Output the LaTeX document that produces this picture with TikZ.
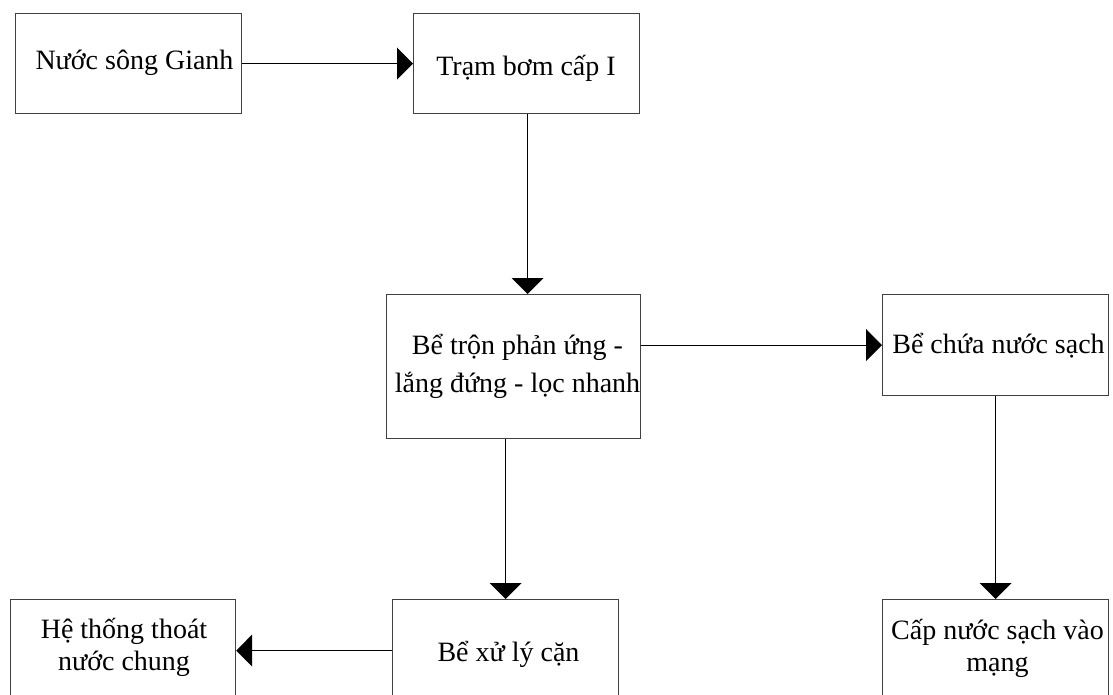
\documentclass[tikz,border=0pt]{standalone}
\usepackage{fontspec}
\setmainfont{Liberation Serif}
\usetikzlibrary{arrows.meta}
\begin{document}
\begin{tikzpicture}[x=1pt,y=-1pt,
  box/.style={draw=black!75, line width=1.2pt, rectangle, inner sep=0pt, anchor=north west},
  lbl/.style={font=\fontsize{28}{33}\selectfont, inner sep=0pt, anchor=base, align=center, text=black},
  conn/.style={draw=black, line width=1pt, -{Triangle[length=16pt,width=32pt]}}]
\useasboundingbox (0,0) rectangle (1113,695);
\clip (0,0) rectangle (1113,695);
\fill[white] (0,0) rectangle (1113,695);
% boxes
\node[box, minimum width=226pt, minimum height=100pt] (A) at (15,13) {};
\node[box, minimum width=226pt, minimum height=100pt] (B) at (413,13) {};
\node[box, minimum width=254pt, minimum height=144pt] (C) at (386,294) {};
\node[box, minimum width=226pt, minimum height=101pt] (D) at (882,294) {};
\node[box, minimum width=226pt, minimum height=102pt] (E) at (392,599) {};
\node[box, minimum width=225pt, minimum height=102pt] (F) at (10,599) {};
\node[box, minimum width=226pt, minimum height=102pt] (G) at (882,599) {};
% texts
\node[lbl] (tA) at (134.5,70) {Nước sông Gianh};
\node[lbl] (tB) at (526,76) {Trạm bơm cấp I};
\node[lbl, font=\fontsize{28}{38}\selectfont] (tC) at (517.5,392) {Bể trộn phản ứng -\\lắng đứng - lọc nhanh};
\node[lbl] (tD) at (998.5,353) {Bể chứa nước sạch};
\node[lbl] (tE) at (508.5,661) {Bể xử lý cặn};
\node[lbl, font=\fontsize{28}{31.5}\selectfont] (tF) at (124,670) {Hệ thống thoát\\nước chung};
\node[lbl, font=\fontsize{28}{32}\selectfont] (tG) at (997.5,671) {Cấp nước sạch vào\\mạng};
% connectors
\draw[conn] (A.east) -- (B.west);
\draw[conn] ([xshift=1pt]B.south) -- ([xshift=1pt]B.south |- C.north);
\draw[conn] (D.west -| C.east) -- (D.west);
\draw[conn] (E.north |- C.south) -- (E.north);
\draw[conn] (D.south) -- (G.north);
\draw[conn] (E.west |- F.east) -- (F.east);
\end{tikzpicture}
\end{document}
